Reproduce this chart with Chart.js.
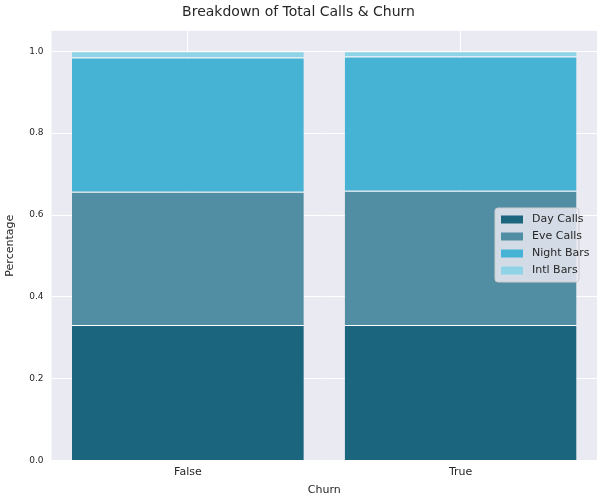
<!DOCTYPE html>
<html>
<head>
<script src="https://cdn.jsdelivr.net/npm/chart.js@4"></script>
<style>
body { margin: 0; background: #fff; }
#wrap { width: 607px; height: 497px; }
</style>
</head>
<body>
<div id="wrap"><canvas id="chart"></canvas></div>
<script>
let labels = ['False', 'True']
let dayCalls = [0.331, 0.331]
let eveCalls = [0.326, 0.328]
let nightBars = [0.328, 0.328]
let intlBars = [0.015, 0.013]
let yTicks = [0.0, 0.2, 0.4, 0.6, 0.8, 1.0]

// background of the plot area, like seaborn darkgrid
const plotBg = {
    id: 'plotBg',
    beforeDraw(chart) {
        const { ctx, chartArea: a } = chart
        ctx.save()
        ctx.fillStyle = '#eaeaf2'
        ctx.fillRect(a.left, a.top, a.right - a.left, a.bottom - a.top)
        ctx.restore()
    }
}

// matplotlib-style legend inside the plot
const boxLegend = {
    id: 'boxLegend',
    afterDraw(chart) {
        const { ctx, chartArea: a } = chart
        const sets = chart.data.datasets
        const x = a.right - 102, y = 208, w = 84, rowH = 17
        ctx.save()
        ctx.fillStyle = 'rgba(234,234,242,0.85)'
        ctx.strokeStyle = '#cccccc'
        ctx.lineWidth = 1
        ctx.beginPath()
        ctx.roundRect(x, y, w, sets.length * rowH + 6, 3)
        ctx.fill()
        ctx.stroke()
        ctx.font = '11px "DejaVu Sans"'
        ctx.textBaseline = 'middle'
        sets.forEach((ds, i) => {
            const cy = y + 3 + rowH * i + rowH / 2
            ctx.fillStyle = ds.backgroundColor
            ctx.fillRect(x + 6, cy - 4, 22, 8)
            ctx.fillStyle = '#262626'
            ctx.fillText(ds.label, x + 37, cy)
        })
        ctx.restore()
    }
}

window.onload = () => {
    const ctx = document.getElementById('chart').getContext('2d')
    const mk = (label, data, color) => ({
        label: label, data: data, backgroundColor: color,
        borderColor: '#ffffff', borderWidth: { top: 1 }, borderSkipped: 'bottom',
        barPercentage: 0.85, categoryPercentage: 1.0
    })
    new Chart(ctx, {
        type: 'bar',
        data: {
            labels: labels,
            datasets: [
                mk('Day Calls', dayCalls, '#1b657e'),
                mk('Eve Calls', eveCalls, '#528ea3'),
                mk('Night Bars', nightBars, '#46b2d4'),
                mk('Intl Bars', intlBars, '#8fd4e6')
            ]
        },
        options: {
            responsive: true, maintainAspectRatio: false, animation: false,
            layout: { padding: { left: 0, right: 10, top: 0, bottom: 0 } },
            plugins: {
                legend: { display: false },
                tooltip: { enabled: false },
                title: {
                    display: true, text: 'Breakdown of Total Calls & Churn',
                    color: '#262626', font: { family: 'DejaVu Sans', size: 14, weight: 'normal' },
                    padding: { top: 4, bottom: 10 }
                }
            },
            scales: {
                x: {
                    stacked: true,
                    grid: { color: '#ffffff', offset: false, drawTicks: false },
                    border: { display: false },
                    ticks: { color: '#262626', font: { family: 'DejaVu Sans', size: 11 }, padding: 5 },
                    title: { display: true, text: 'Churn', color: '#262626', font: { family: 'DejaVu Sans', size: 11 }, padding: 0 }
                },
                y: {
                    stacked: true, min: 0, max: 1.05,
                    afterBuildTicks: axis => { axis.ticks = yTicks.map(v => ({ value: v })) },
                    grid: { color: '#ffffff', drawTicks: false },
                    border: { display: false },
                    ticks: { color: '#262626', font: { family: 'DejaVu Sans', size: 9 }, padding: 8, callback: v => v.toFixed(1) },
                    title: { display: true, text: 'Percentage', color: '#262626', font: { family: 'DejaVu Sans', size: 11 }, padding: 4 }
                }
            }
        },
        plugins: [plotBg, boxLegend]
    })
}
</script>
</body>
</html>
